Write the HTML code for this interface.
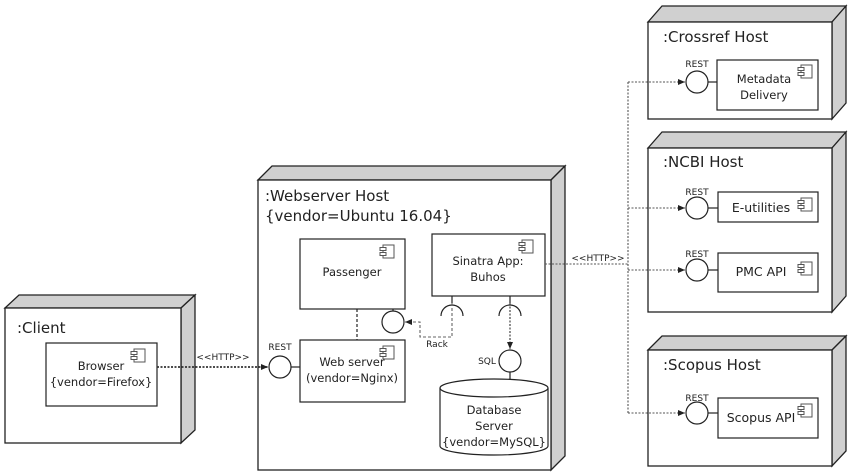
<!DOCTYPE html>
<html><head><meta charset="utf-8"><style>html,body{margin:0;padding:0;background:#fff}svg{display:block}</style></head><body>
<svg width="850" height="474" viewBox="0 0 850 474" xmlns="http://www.w3.org/2000/svg" font-family="'DejaVu Sans','Liberation Sans',sans-serif">
<defs>
<marker id="ah" markerWidth="8" markerHeight="8" refX="7" refY="4" orient="auto" markerUnits="userSpaceOnUse"><path d="M0,1 L7,4 L0,7 z" fill="#222"/></marker>
<g id="ci"><rect x="0" y="0" width="11" height="13" fill="#fff" stroke="#555" stroke-width="1"/><rect x="-3" y="2.5" width="6" height="3" fill="#fff" stroke="#555" stroke-width="1"/><rect x="-3" y="7.5" width="6" height="3" fill="#fff" stroke="#555" stroke-width="1"/></g>
</defs>
<g stroke="#222" stroke-width="1.3">
<polygon points="5,308 19,295 195,295 181,308" fill="#d0d0d0"/>
<polygon points="181,308 195,295 195,430 181,443" fill="#d0d0d0"/>
<rect x="5" y="308" width="176" height="135" fill="#fff"/>
<polygon points="258,180 272,166 565,166 551,180" fill="#d0d0d0"/>
<polygon points="551,180 565,166 565,456 551,470" fill="#d0d0d0"/>
<rect x="258" y="180" width="293" height="290" fill="#fff"/>
<polygon points="648,22 662,6 846,6 832,22" fill="#d0d0d0"/>
<polygon points="832,22 846,6 846,103 832,119" fill="#d0d0d0"/>
<rect x="648" y="22" width="184" height="97" fill="#fff"/>
<polygon points="648,148 662,132 846,132 832,148" fill="#d0d0d0"/>
<polygon points="832,148 846,132 846,296 832,312" fill="#d0d0d0"/>
<rect x="648" y="148" width="184" height="164" fill="#fff"/>
<polygon points="648,350 662,336 846,336 832,350" fill="#d0d0d0"/>
<polygon points="832,350 846,336 846,451 832,466" fill="#d0d0d0"/>
<rect x="648" y="350" width="184" height="116" fill="#fff"/>
</g>
<g font-size="15" fill="#222">
<text x="17" y="333">:Client</text>
<text x="265" y="201">:Webserver Host</text>
<text x="265" y="221">{vendor=Ubuntu 16.04}</text>
<text x="663" y="42">:Crossref Host</text>
<text x="663" y="167">:NCBI Host</text>
<text x="663" y="370">:Scopus Host</text>
</g>
<g stroke="#222" stroke-width="1.2" fill="#fff">
<rect x="46" y="343" width="111" height="63"/>
<rect x="300" y="239" width="105" height="70"/>
<rect x="300" y="340" width="105" height="62"/>
<rect x="432" y="234" width="113" height="62"/>
<rect x="717" y="60" width="101" height="50"/>
<rect x="718" y="192" width="100" height="30"/>
<rect x="718" y="253" width="100" height="39"/>
<rect x="718" y="398" width="100" height="40"/>
</g>
<path d="M440,388 L440,446 A54,9 0 0 0 548,446 L548,388" fill="#fff" stroke="#222" stroke-width="1.2"/>
<ellipse cx="494" cy="388" rx="54" ry="9" fill="#fff" stroke="#222" stroke-width="1.2"/>
<use href="#ci" x="134" y="349"/>
<use href="#ci" x="383" y="245"/>
<use href="#ci" x="383" y="346"/>
<use href="#ci" x="522" y="240"/>
<use href="#ci" x="801" y="65"/>
<use href="#ci" x="801" y="198"/>
<use href="#ci" x="801" y="262"/>
<use href="#ci" x="801" y="404"/>
<g font-size="11.5" fill="#222" text-anchor="middle">
<text x="101" y="370">Browser</text>
<text x="101" y="386">{vendor=Firefox}</text>
<text x="352" y="276">Passenger</text>
<text x="352" y="366">Web server</text>
<text x="352" y="382">(vendor=Nginx)</text>
<text x="488" y="265">Sinatra App:</text>
<text x="488" y="281">Buhos</text>
<text x="764" y="83">Metadata</text>
<text x="764" y="99">Delivery</text>
<text x="761" y="212" font-size="12.5">E-utilities</text>
<text x="761" y="276" font-size="12.5">PMC API</text>
<text x="761" y="422" font-size="12.5">Scopus API</text>
<text x="494" y="414">Database</text>
<text x="494" y="430">Server</text>
<text x="494" y="446">{vendor=MySQL}</text>
</g>
<g font-size="9" fill="#222" text-anchor="middle">
<text x="280" y="350">REST</text>
<text x="697" y="67">REST</text>
<text x="697" y="195">REST</text>
<text x="697" y="257">REST</text>
<text x="697" y="401">REST</text>
<text x="223" y="360">&lt;&lt;HTTP&gt;&gt;</text>
<text x="598" y="261">&lt;&lt;HTTP&gt;&gt;</text>
<text x="437" y="347">Rack</text>
<text x="487" y="364">SQL</text>
</g>
<g stroke="#222" stroke-width="1.2" fill="none">
<line x1="291" y1="367" x2="300" y2="367"/>
<line x1="708" y1="82" x2="717" y2="82"/>
<line x1="708" y1="208" x2="718" y2="208"/>
<line x1="708" y1="270" x2="718" y2="270"/>
<line x1="708" y1="413" x2="718" y2="413"/>
<line x1="393" y1="309" x2="393" y2="311"/>
<line x1="452" y1="296" x2="452" y2="303"/>
<line x1="510" y1="296" x2="510" y2="303"/>
<line x1="510" y1="372" x2="510" y2="379"/>
<line x1="357" y1="309" x2="357" y2="340" stroke-dasharray="3,2"/>
<circle cx="280" cy="367" r="11" fill="#fff"/>
<circle cx="697" cy="82" r="11" fill="#fff"/>
<circle cx="697" cy="208" r="11" fill="#fff"/>
<circle cx="697" cy="270" r="11" fill="#fff"/>
<circle cx="697" cy="413" r="11" fill="#fff"/>
<circle cx="393" cy="322" r="11" fill="#fff"/>
<circle cx="510" cy="361" r="11" fill="#fff"/>
<path d="M441,316 A11,11 0 0 1 463,316"/>
<path d="M499,316 A11,11 0 0 1 521,316"/>
</g>
<g stroke="#333" stroke-width="1.1" fill="none">
<line x1="157" y1="367" x2="268" y2="367" stroke-dasharray="2,1.5" stroke-width="1.8" marker-end="url(#ah)"/>
<path d="M452,303 L452,337 L420,337 L420,322 L405,322" stroke-dasharray="3,2" stroke="#666" marker-end="url(#ah)"/>
<line x1="510" y1="303" x2="510" y2="349" stroke-dasharray="2,1.5" marker-end="url(#ah)"/>
<g stroke-dasharray="2,1.5" stroke="#555">
<line x1="545" y1="264" x2="628" y2="264"/>
<line x1="628" y1="82" x2="628" y2="413"/>
<line x1="628" y1="82" x2="685" y2="82" marker-end="url(#ah)"/>
<line x1="628" y1="208" x2="685" y2="208" marker-end="url(#ah)"/>
<line x1="628" y1="270" x2="685" y2="270" marker-end="url(#ah)"/>
<line x1="628" y1="413" x2="685" y2="413" marker-end="url(#ah)"/>
</g>
</g>
</svg>
</body></html>
